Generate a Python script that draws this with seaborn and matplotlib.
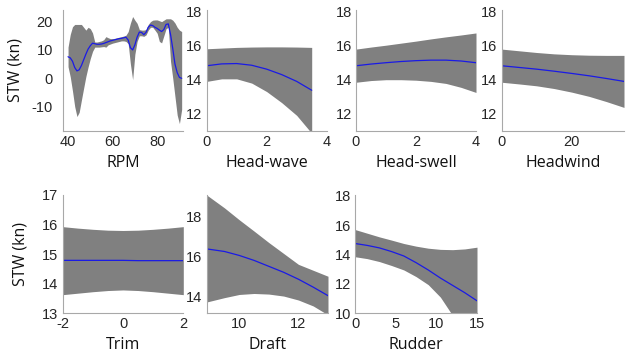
import numpy as np
import pandas as pd
import matplotlib
matplotlib.use("Agg")
import matplotlib.pyplot as plt
import seaborn as sns

# ---------------------------------------------------------------------------
# Data
# ---------------------------------------------------------------------------

rpm_x = [40, 41, 42, 43, 44, 45, 46, 47, 48, 49, 50, 51, 52, 53, 54, 55, 56, 57,
         58, 59, 60, 61, 62, 63, 64, 65, 66, 67, 68, 69, 70, 71, 72, 73, 74, 75,
         76, 77, 78, 79, 80, 81, 82, 83, 84, 85, 86, 87, 88, 89, 90, 91]
rpm_mean = [7.6, 7.2, 6.0, 3.8, 2.6, 3.0, 4.5, 6.5, 8.5, 10.3, 11.5, 12.4, 12.2,
            12.0, 12.0, 12.1, 12.3, 12.6, 12.9, 13.2, 13.4, 13.6, 13.8, 14.0, 14.1,
            14.3, 14.5, 13.5, 10.8, 10.0, 11.8, 14.5, 16.3, 16.2, 15.4, 16.2, 18.0,
            18.8, 18.6, 18.0, 17.6, 17.0, 16.5, 17.2, 19.0, 19.2, 15.5, 10.5, 5.0,
            2.0, 0.3, 0.0]
rpm_upper = [11.0, 15.5, 18.2, 19.0, 19.0, 19.0, 19.0, 18.0, 17.0, 18.0, 17.5, 16.0,
             12.8, 12.8, 13.0, 13.2, 13.6, 14.7, 14.3, 14.0, 14.0, 14.1, 14.3, 14.5,
             14.7, 14.9, 15.2, 16.5, 19.5, 21.8, 20.5, 19.4, 17.2, 17.0, 17.0, 17.2,
             19.0, 20.0, 20.5, 20.6, 20.6, 20.3, 20.0, 20.5, 21.0, 21.0, 21.0, 20.5,
             19.5, 18.0, 17.0, 16.5]
rpm_lower = [4.1, 0.5, -4.5, -10.0, -13.5, -12.0, -7.7, -3.5, 0.6, 4.0, 7.0, 9.5,
             11.0, 11.0, 11.0, 11.1, 11.2, 11.0, 11.8, 12.1, 12.4, 12.6, 12.8, 13.0,
             13.2, 13.2, 13.0, 12.2, 5.0, -0.5, 8.5, 13.0, 15.0, 15.0, 14.8, 15.3,
             17.0, 18.0, 18.0, 17.0, 15.9, 13.0, 12.5, 15.0, 17.5, 18.0, 6.0, 0.0,
             -6.5, -13.0, -16.0, -11.0]

wave_x = [0, 0.5, 1, 1.5, 2, 2.5, 3, 3.5]
wave_mean = [14.82, 14.93, 14.95, 14.85, 14.62, 14.3, 13.9, 13.38]
wave_upper = [15.82, 15.86, 15.9, 15.92, 15.93, 15.93, 15.92, 15.9]
wave_lower = [13.9, 14.05, 14.05, 13.8, 13.3, 12.65, 11.9, 10.85]

swell_x = [0, 0.5, 1, 1.5, 2, 2.5, 3, 3.5, 4]
swell_mean = [14.82, 14.92, 15.0, 15.07, 15.12, 15.15, 15.15, 15.1, 15.0]
swell_upper = [15.8, 15.92, 16.03, 16.15, 16.27, 16.4, 16.52, 16.63, 16.75]
swell_lower = [13.85, 13.95, 14.0, 14.0, 13.97, 13.9, 13.78, 13.55, 13.25]

wind_x = [0, 5, 10, 15, 20, 25, 30, 35]
wind_mean = [14.82, 14.72, 14.62, 14.5, 14.37, 14.23, 14.07, 13.9]
wind_upper = [15.8, 15.7, 15.6, 15.52, 15.47, 15.44, 15.43, 15.43]
wind_lower = [13.85, 13.75, 13.64, 13.48, 13.27, 13.02, 12.71, 12.37]

trim_x = [-2, -1.5, -1, -0.5, 0, 0.5, 1, 1.5, 2]
trim_mean = [14.79, 14.79, 14.79, 14.79, 14.79, 14.78, 14.78, 14.78, 14.78]
trim_upper = [15.93, 15.88, 15.84, 15.81, 15.8, 15.81, 15.84, 15.88, 15.93]
trim_lower = [13.63, 13.68, 13.73, 13.77, 13.79, 13.77, 13.73, 13.68, 13.63]

draft_x = [8.9, 9.5, 10, 10.5, 11, 11.5, 12, 12.5, 13]
draft_mean = [16.38, 16.25, 16.05, 15.8, 15.5, 15.2, 14.85, 14.45, 14.02]
draft_upper = [19.1, 18.45, 17.85, 17.28, 16.7, 16.15, 15.6, 15.3, 15.0]
draft_lower = [13.7, 13.92, 14.08, 14.13, 14.1, 14.0, 13.8, 13.5, 13.05]

rudder_x = [0, 1.5, 3, 4.5, 6, 7.5, 9, 10.5, 12, 13.5, 15]
rudder_mean = [14.75, 14.62, 14.45, 14.2, 13.9, 13.45, 12.95, 12.4, 11.9, 11.4, 10.85]
rudder_upper = [15.7, 15.45, 15.2, 14.98, 14.75, 14.57, 14.43, 14.35, 14.33, 14.38, 14.5]
rudder_lower = [13.85, 13.72, 13.52, 13.25, 12.95, 12.5, 11.95, 11.1, 9.85, 8.6, 7.2]

# ---------------------------------------------------------------------------
# Style
# ---------------------------------------------------------------------------

sns.set_style("white")
plt.rcParams["font.family"] = ["Liberation Sans", "DejaVu Sans"]
plt.rcParams["axes.unicode_minus"] = False

W, H = 629, 356
BAND = "#808080"
LINE = "#1a1ae6"
SPINE = "#a8a8a8"
TEXT = "#262626"


def rect(x0, y0, x1, y1):
    return [x0 / W, 1 - y1 / H, (x1 - x0) / W, (y1 - y0) / H]


panels = [
    # x, mean, upper, lower, label, rect, xlim, ylim, xticks, yticks, ylabel
    (rpm_x, rpm_mean, rpm_upper, rpm_lower, "RPM", (62.7, 10, 183, 130.7),
     (37.6, 91.6), (-18.5, 24.1), [40, 60, 80], [-10, 0, 10, 20], True),
    (wave_x, wave_mean, wave_upper, wave_lower, "Head-wave", (206.7, 10, 326.7, 130.7),
     (0, 4), (11, 18.1), [0, 2, 4], [12, 14, 16, 18], False),
    (swell_x, swell_mean, swell_upper, swell_lower, "Head-swell", (356, 10, 476, 130.7),
     (0, 4), (11, 18.1), [0, 2, 4], [12, 14, 16, 18], False),
    (wind_x, wind_mean, wind_upper, wind_lower, "Headwind", (501.7, 10, 624, 130.7),
     (0, 35), (11, 18.1), [0, 20], [12, 14, 16, 18], False),
    (trim_x, trim_mean, trim_upper, trim_lower, "Trim", (62.7, 195, 183.3, 313.3),
     (-2, 2), (13, 17), [-2, 0, 2], [13, 14, 15, 16, 17], True),
    (draft_x, draft_mean, draft_upper, draft_lower, "Draft", (206.7, 195, 328, 313.3),
     (8.9, 13), (13.13, 19.1), [10, 12], [14, 16, 18], False),
    (rudder_x, rudder_mean, rudder_upper, rudder_lower, "Rudder", (355, 195, 477, 313.3),
     (0, 15), (10, 18.05), [0, 5, 10, 15], [10, 12, 14, 16, 18], False),
]

fig = plt.figure(figsize=(W / 100, H / 100), dpi=100)

for x, mean, upper, lower, label, box, xlim, ylim, xt, yt, has_ylabel in panels:
    ax = fig.add_axes(rect(*box))
    df = pd.DataFrame({"x": x, "mean": mean, "upper": upper, "lower": lower})
    ax.fill_between(df["x"], df["lower"], df["upper"], color=BAND, lw=0)
    sns.lineplot(data=df, x="x", y="mean", ax=ax, color=LINE, lw=0.9)

    ax.set_xlim(*xlim)
    ax.set_ylim(*ylim)
    ax.set_xticks(xt)
    ax.set_yticks(yt)
    for side in ["top", "right"]:
        ax.spines[side].set_visible(False)
    for side in ["left", "bottom"]:
        ax.spines[side].set_color(SPINE)
        ax.spines[side].set_linewidth(0.8)
    ax.tick_params(direction="in", length=2.5, width=0.6, color=SPINE,
                   labelsize=10.5, labelcolor=TEXT, pad=3)

    ax.set_xlabel(label, fontsize=11.5, color="#111111", family="Open Sans")
    ax.xaxis.set_label_coords(0.5, -0.265)
    ax.xaxis.label.set_va("center")
    if has_ylabel:
        ax.set_ylabel("STW (kn)", fontsize=11.5, color="#111111", family="Open Sans")
        ax.yaxis.set_label_coords(-0.39 if label == "RPM" else -0.35, 0.5)
        ax.yaxis.label.set_va("center")
        if label == "RPM":
            ax.tick_params(axis="y", pad=7)
    else:
        ax.set_ylabel("")

fig.savefig("out.png", dpi=100)
